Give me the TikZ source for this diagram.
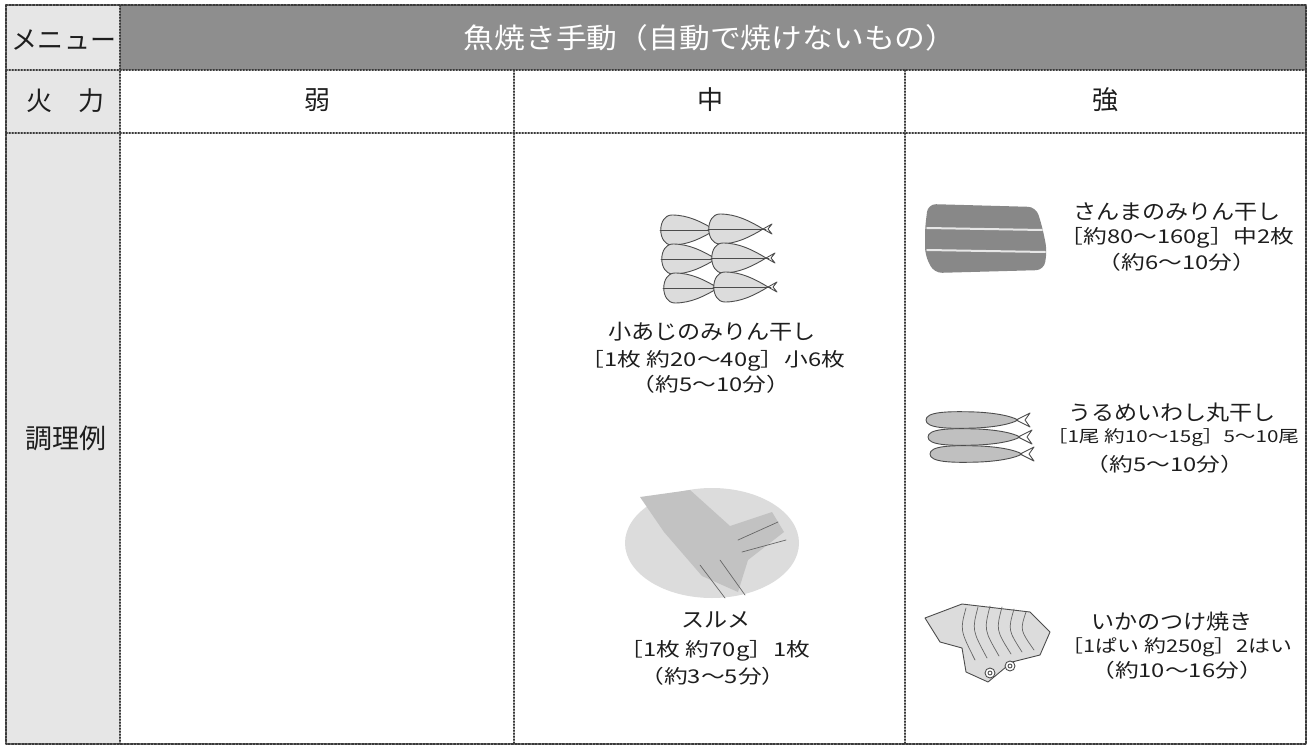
\documentclass[tikz,border=0pt]{standalone}
\usepackage{fontspec}
\setmainfont{Noto Sans CJK JP}
\newfontfamily\namejp[FakeStretch=1.1]{Noto Sans CJK JP}
\newfontfamily\infojp[FakeStretch=1.25]{Noto Sans CJK JP}
\usepackage{xcolor}
\usepackage{tikz}
\definecolor{ink}{HTML}{1E1E1E}
\definecolor{rule}{HTML}{3A3A3A}
\definecolor{headfill}{HTML}{8E8E8E}
\definecolor{sidefill}{HTML}{E6E6E6}
\definecolor{lightfish}{HTML}{DCDCDC}
\definecolor{squidband}{HTML}{C2C2C2}
\definecolor{midfish}{HTML}{C0C0C0}
\definecolor{darkfish}{HTML}{888888}
\tikzset{
  gridline/.style={draw=rule, line width=1.3pt, dash pattern=on 1.3pt off 1.7pt},
  outerframe/.style={draw=rule, line width=2pt, dash pattern=on 2pt off 1.4pt},
  headtxt/.style={text=white, font=\namejp\fontsize{28}{30}\selectfont},
  celltxt/.style={text=ink, font=\fontsize{26}{28}\selectfont},
  foodname/.style={text=ink, font=\namejp\fontsize{21}{23}\selectfont, inner sep=0pt},
  foodinfo/.style={text=ink, font=\infojp\fontsize{19}{21}\selectfont, inner sep=0pt},
  fishbody/.style={draw=black!70, line width=0.9pt, fill=lightfish},
  fishline/.style={draw=black!70, line width=0.9pt},
  thinline/.style={draw=black!60, line width=0.7pt}
}
\tikzset{
  aji/.pic={
    \path[fishbody] (55,0) .. controls (42,-8) and (28,-15) .. (12,-15)
      .. controls (-3,-15) and (-3,15) .. (12,15)
      .. controls (28,15) and (42,8) .. (55,0) -- cycle;
    \draw[fishline] (0,0) -- (58,0);
    \draw[fishline] (55,0) -- (64,-5) -- (60,0) -- (64,5) -- cycle;
  },
  iwashi/.pic={
    \path[fishbody, fill=midfish] (0,0) .. controls (0,-8) and (20,-9) .. (50,-8)
      .. controls (70,-7) and (85,-4) .. (92,0)
      .. controls (85,4) and (70,7) .. (50,8)
      .. controls (20,9) and (0,8) .. (0,0) -- cycle;
    \draw[fishline] (90,0) -- (104,-7) -- (99,0) -- (104,7) -- cycle;
  }
}
\begin{document}
\begin{tikzpicture}[x=1pt, y=-1pt, line cap=round, line join=round]
  \useasboundingbox (0,0) rectangle (1311,749);
  % table
  \fill[headfill] (120,5) rectangle (1306,70);
  \fill[sidefill] (6,5) rectangle (120,744);
  \draw[gridline] (6,70) -- (1306,70);
  \draw[gridline] (6,133) -- (1306,133);
  \draw[gridline] (120,5) -- (120,744);
  \draw[gridline] (514,70) -- (514,744);
  \draw[gridline] (905,70) -- (905,744);
  \draw[outerframe] (6,5) rectangle (1306,744);

  \node[headtxt] (head) at (710,38) {魚焼き手動（自動で焼けないもの）};
  \node[celltxt] (menu) at (64,40) {メニュー};
  \node[celltxt] (fire) at (65,101) {火　力};
  \node[celltxt] (low) at (317,100) {弱};
  \node[celltxt] (mid) at (710,100) {中};
  \node[celltxt] (high) at (1105,100) {強};
  \node[celltxt, font=\fontsize{27}{29}\selectfont] (cook) at (66,438) {調理例};

  % small horse mackerel
  \pic at (660,230) {aji};
  \pic at (708,229) {aji};
  \pic at (661,259) {aji};
  \pic at (711,258) {aji};
  \pic at (663,288) {aji};
  \pic at (713,287) {aji};
  \node[foodname] (aji) at (712,332) {小あじのみりん干し};
  \node[foodinfo] (ajiw) at (713,361) {［1枚 約20〜40g］小6枚};
  \node[foodinfo] (ajit) at (711,384) {（約5〜10分）};

  % dried squid
  \fill[lightfish] (712,543) ellipse [x radius=87, y radius=55];
  \path[fill=squidband] (640,497) -- (690,490) -- (730,526) -- (772,512) -- (784,532)
    -- (748,560) -- (738,592) -- (702,576) -- (664,532) -- cycle;
  \draw[thinline] (738,540) -- (778,522);
  \draw[thinline] (742,552) -- (786,540);
  \draw[thinline] (720,560) -- (745,595);
  \draw[thinline] (700,565) -- (725,598);
  \node[foodname] (surume) at (716,620) {スルメ};
  \node[foodinfo] (surumew) at (715,651) {［1枚 約70g］1枚};
  \node[foodinfo] (surumet) at (713,676) {（約3〜5分）};

  % saury
  \path[fill=darkfish, rounded corners=8pt] (928,204) -- (1036,207) -- (1042,226)
    -- (1047,250) -- (1044,270) -- (934,273) -- (925,255) -- (925,228) -- cycle;
  \draw[draw=white!80!darkfish, line width=2pt] (927,228) -- (1042,230);
  \draw[draw=white!80!darkfish, line width=2pt] (927,250) -- (1045,252);
  \node[foodname] (sanma) at (1177,212) {さんまのみりん干し};
  \node[foodinfo] (sanmaw) at (1177,238) {［約80〜160g］中2枚};
  \node[foodinfo] (sanmat) at (1177,262) {（約6〜10分）};

  % round herring
  \pic at (926,420) {iwashi};
  \pic at (928,437) {iwashi};
  \pic at (930,454) {iwashi};
  \node[foodname] (urume) at (1172,413) {うるめいわし丸干し};
  \node[foodinfo, font=\infojp\fontsize{16.5}{19}\selectfont] (urumew) at (1173,438) {［1尾 約10〜15g］5〜10尾};
  \node[foodinfo] (urumet) at (1165,464) {（約5〜10分）};

  % grilled squid
  \path[fishbody] (925,618) -- (962,604) -- (1030,612) -- (1050,632) -- (1040,655)
    -- (1012,662) -- (988,682) -- (966,672) -- (962,648) -- (940,642) -- cycle;
  \draw[thinline] (966,608) .. controls (960,630) .. (975,660);
  \draw[thinline] (978,607) .. controls (972,630) .. (987,658);
  \draw[thinline] (990,606) .. controls (984,630) .. (999,656);
  \draw[thinline] (1002,607) .. controls (996,630) .. (1011,654);
  \draw[thinline] (1014,609) .. controls (1008,630) .. (1022,652);
  \draw[thinline] (1026,612) .. controls (1020,630) .. (1034,650);
  \draw[fishline, fill=white] (990,673) circle [radius=5];
  \draw[fishline] (990,673) circle [radius=2];
  \draw[fishline, fill=white] (1010,666) circle [radius=5];
  \draw[fishline] (1010,666) circle [radius=2];
  \node[foodname] (ika) at (1172,622) {いかのつけ焼き};
  \node[foodinfo, font=\infojp\fontsize{17.5}{20}\selectfont] (ikaw) at (1177,647) {［1ぱい 約250g］2はい};
  \node[foodinfo] (ikat) at (1177,670) {（約10〜16分）};
\end{tikzpicture}
\end{document}
